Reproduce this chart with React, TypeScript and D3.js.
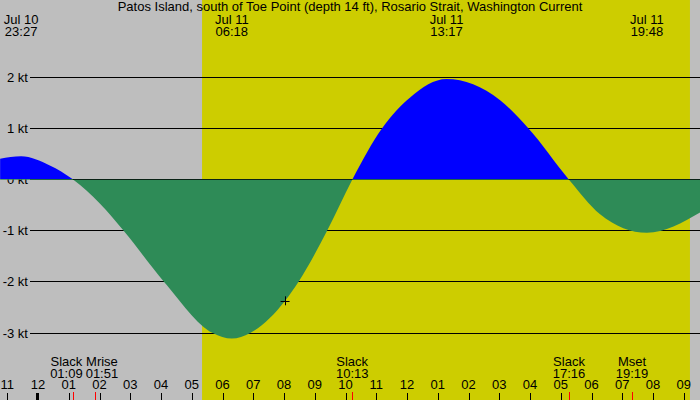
import { useMemo } from 'react';
import * as d3 from 'd3';

const W = 700;
const H = 400;
const FONT = "'Liberation Sans', Arial, sans-serif";

const title =
	'Patos Island, south of Toe Point (depth 14 ft), Rosario Strait, Washington Current';

// time window of the hour axis, and daylight
const axisStart = '07/10 23:00';
const axisEnd = '07/11 21:00';
const sunrise = '07/11 05:20';
const sunset = '07/11 21:12';

// current speed (kt)
const curveTimes = [
	'07/10 22:46', '07/10 23:27', '07/11 00:23', '07/11 01:09', '07/11 02:01',
	'07/11 02:47', '07/11 04:06', '07/11 05:41', '07/11 06:18', '07/11 06:54',
	'07/11 08:02', '07/11 08:28', '07/11 09:24', '07/11 10:13', '07/11 11:11',
	'07/11 12:06', '07/11 13:17', '07/11 15:01', '07/11 15:57', '07/11 17:16',
	'07/11 18:16', '07/11 19:48', '07/11 21:32',
];
const curveValues = [
	0.41, 0.46, 0.28, 0, -0.47,
	-1, -2, -3, -3.11, -3,
	-2.37, -2, -1, 0, 1,
	1.61, 1.97, 1.56, 1, 0,
	-0.67, -1.04, -0.64,
];

// max flood / max ebb times shown on top
const extremeTimes = ['07/10 23:27', '07/11 06:18', '07/11 13:17', '07/11 19:48'];

// events listed at the bottom
const eventNames = ['Slack', 'Mrise', 'Slack', 'Slack', 'Mset'];
const eventTimes = ['07/11 01:09', '07/11 01:51', '07/11 10:13', '07/11 17:16', '07/11 19:19'];

const levelTicks = [2, 1, 0, -1, -2, -3];

const markTime = '07/11 08:02';
const markValue = -2.37;

const parse = d3.timeParse('%m/%d %H:%M');
const fmtDay = d3.timeFormat('%b %d');
const fmtTime = d3.timeFormat('%H:%M');
const fmtHour = d3.timeFormat('%I');

const measure = (() => {
	let ctx: CanvasRenderingContext2D | null = null;
	return (s: string) => {
		if (!ctx) {
			ctx = document.createElement('canvas').getContext('2d');
			if (ctx) ctx.font = `13px ${FONT}`;
		}
		return ctx ? ctx.measureText(s).width : s.length * 6.5;
	};
})();

const App = () => {
	const x = d3
		.scaleTime()
		.domain([parse(axisStart)!, parse(axisEnd)!])
		.range([7.3, 683.8]);
	const y = d3.scaleLinear().domain([-3, 2]).range([333, 77.5]);
	const zeroRow = Math.floor(y(0));

	const points = curveTimes.map((t, i) => ({ t: parse(t)!, v: curveValues[i] }));

	const area = d3
		.area<{ t: Date; v: number }>()
		.x((d) => x(d.t))
		.y0(y(0))
		.y1((d) => y(d.v))
		.curve(d3.curveMonotoneX);
	const areaPath = area(points) ?? '';

	const hours = d3.timeHour.range(parse(axisStart)!, d3.timeMinute.offset(parse(axisEnd)!, 1));

	// bottom event labels, pushed apart where they collide
	const events = useMemo(() => {
		const list = eventNames.map((name, i) => {
			const t = parse(eventTimes[i])!;
			const w = Math.max(measure(name), measure(fmtTime(t)));
			return { name, t, px: x(t), cx: x(t), w };
		});
		const gap = 3;
		for (let i = 1; i < list.length; i++) {
			const a = list[i - 1];
			const b = list[i];
			const need = (a.w + b.w) / 2 + gap - (b.cx - a.cx);
			if (need > 0) {
				a.cx -= need / 2;
				b.cx += need / 2;
			}
		}
		return list;
	}, []);

	const mx = x(parse(markTime)!);
	const my = y(markValue);

	return (
		<svg
			width={W}
			height={H}
			style={{ position: 'absolute', left: 0, top: 0, fontFamily: FONT }}
		>
			<defs>
				<clipPath id='above'>
					<rect x={0} y={0} width={W} height={zeroRow} />
				</clipPath>
				<clipPath id='below'>
					<rect x={0} y={zeroRow} width={W} height={H - zeroRow} />
				</clipPath>
			</defs>
			<rect width={W} height={H} fill='#bebebe' />
			<rect
				x={x(parse(sunrise)!)}
				y={0}
				width={x(parse(sunset)!) - x(parse(sunrise)!)}
				height={H}
				fill='#cdcd00'
			/>

			{levelTicks.map((v) => {
				const yy = Math.floor(y(v)) + 0.5;
				return (
					<g key={v}>
						<line x1={30} x2={W} y1={yy} y2={yy} stroke='#000' />
						<text x={28} y={yy + 4.5} fontSize={13} textAnchor='end'>
							{`${v} kt`}
						</text>
					</g>
				);
			})}

			<path d={areaPath} fill='#0000ff' clipPath='url(#above)' />
			<path d={areaPath} fill='#2e8b57' clipPath='url(#below)' />

			<g stroke='#000'>
				<line x1={mx - 4.5} x2={mx + 4.5} y1={Math.round(my) + 0.5} y2={Math.round(my) + 0.5} />
				<line x1={Math.round(mx) + 0.5} x2={Math.round(mx) + 0.5} y1={my - 4.5} y2={my + 4.5} />
			</g>

			<text x={W / 2} y={11} fontSize={13} textAnchor='middle'>
				{title}
			</text>

			{extremeTimes.map((s) => {
				const t = parse(s)!;
				return (
					<g key={s} fontSize={13} textAnchor='middle'>
						<text x={x(t)} y={24}>{fmtDay(t)}</text>
						<text x={x(t)} y={36}>{fmtTime(t)}</text>
					</g>
				);
			})}

			{hours.map((h) => {
				const hx = Math.round(x(h));
				const midnight = h.getHours() === 0;
				return (
					<g key={+h}>
						{midnight ? (
							<rect x={hx - 2} y={393} width={3} height={7} fill='#000' />
						) : (
							<line x1={hx + 0.5} x2={hx + 0.5} y1={393} y2={H} stroke='#000' />
						)}
						<text x={x(h)} y={389} fontSize={13} textAnchor='middle'>
							{fmtHour(h)}
						</text>
					</g>
				);
			})}

			{events.map((e) => (
				<g key={e.name + e.px}>
					<line
						x1={Math.round(e.px) + 0.5}
						x2={Math.round(e.px) + 0.5}
						y1={392}
						y2={H}
						stroke='#ff0000'
					/>
					<text x={e.cx} y={366} fontSize={13} textAnchor='middle'>
						{e.name}
					</text>
					<text x={e.cx} y={377.5} fontSize={13} textAnchor='middle'>
						{fmtTime(e.t)}
					</text>
				</g>
			))}
		</svg>
	);
};

export default App;
